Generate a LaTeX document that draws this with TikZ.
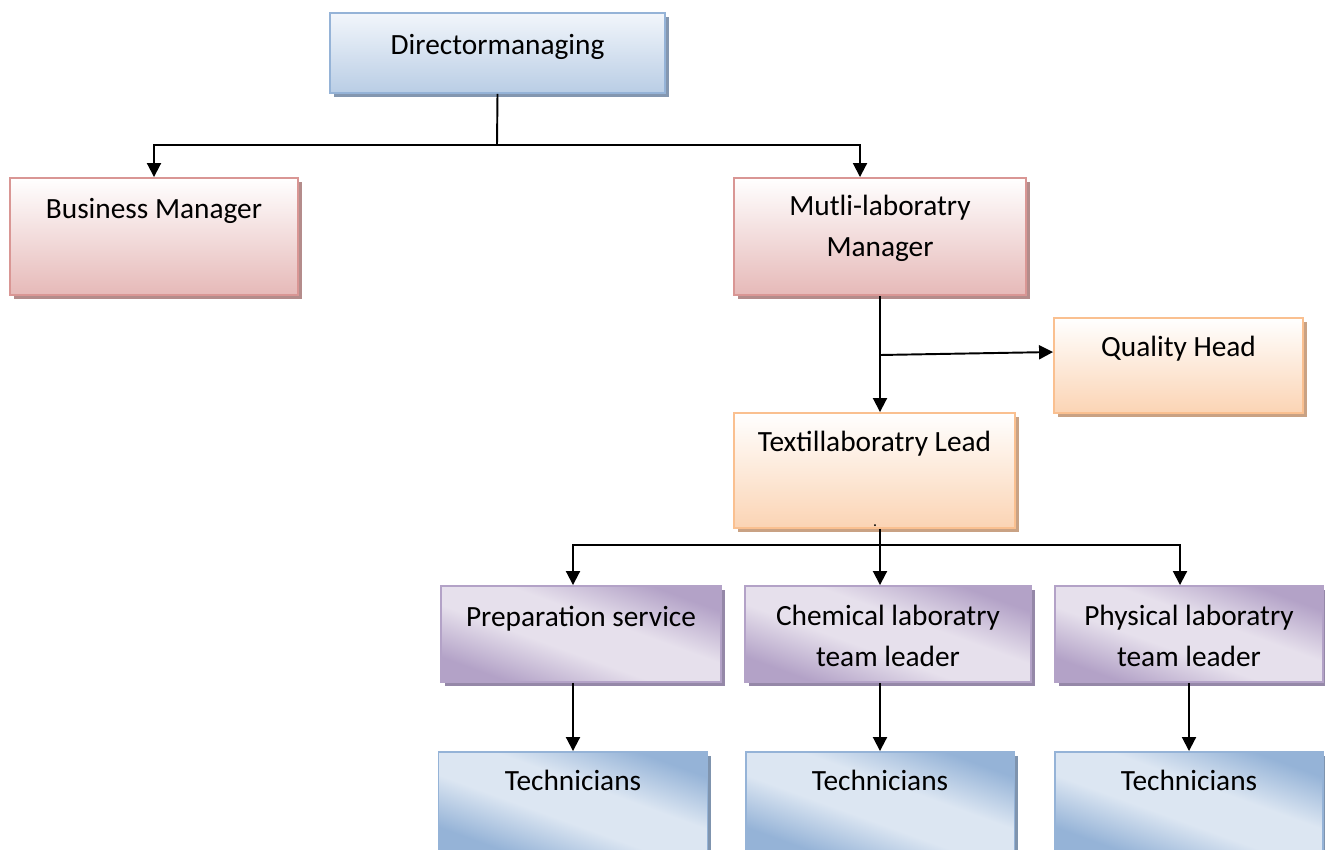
\documentclass[tikz,border=0pt]{standalone}
\usepackage{fontspec}
\setmainfont{Carlito}
\usetikzlibrary{arrows.meta,shadows}

\definecolor{dirline}{HTML}{95B3D7}
\definecolor{dirtop}{HTML}{F2F6FB}
\definecolor{dirbot}{HTML}{B9CDE5}
\definecolor{dirshade}{HTML}{8497B0}
\definecolor{mgrline}{HTML}{D99694}
\definecolor{mgrbot}{HTML}{E6B9B8}
\definecolor{mgrshade}{HTML}{B48C8B}
\definecolor{headline}{HTML}{FAC090}
\definecolor{headbot}{HTML}{FBD4B4}
\definecolor{headshade}{HTML}{C9A284}
\definecolor{teamdark}{HTML}{B3A2C7}
\definecolor{teamlight}{HTML}{E6E0EC}
\definecolor{teamshade}{HTML}{9588A8}
\definecolor{techdark}{HTML}{95B3D7}
\definecolor{techlight}{HTML}{DCE6F2}
\definecolor{techshade}{HTML}{7F94AE}

\pgfdeclareverticalshading{teamfade}{100bp}{color(0bp)=(teamdark); color(26bp)=(teamdark);
   color(43bp)=(teamlight); color(57bp)=(teamlight); color(74bp)=(teamdark); color(100bp)=(teamdark)}
\pgfdeclareverticalshading{techfade}{100bp}{color(0bp)=(techdark); color(26bp)=(techdark);
   color(43bp)=(techlight); color(57bp)=(techlight); color(74bp)=(techdark); color(100bp)=(techdark)}

\begin{document}
\begin{tikzpicture}[x=0.02cm,y=-0.02cm,
   box/.style={rectangle,line width=1.1pt,inner sep=0pt,align=center,
      font=\fontsize{16.7}{22.8}\selectfont},
   dirbox/.style={box,draw=dirline,top color=dirtop,bottom color=dirbot,
      drop shadow={shadow xshift=0.08cm,shadow yshift=-0.08cm,fill=dirshade,opacity=1}},
   mgrbox/.style={box,draw=mgrline,top color=white,bottom color=mgrbot,
      drop shadow={shadow xshift=0.08cm,shadow yshift=-0.08cm,fill=mgrshade,opacity=1}},
   headbox/.style={box,draw=headline,top color=white,bottom color=headbot,
      drop shadow={shadow xshift=0.08cm,shadow yshift=-0.08cm,fill=headshade,opacity=1}},
   teambox/.style={box,draw=teamdark,shade,shading=teamfade,shading angle=-20,
      drop shadow={shadow xshift=0.08cm,shadow yshift=-0.08cm,fill=teamshade,opacity=1}},
   techbox/.style={box,draw=techdark,shade,shading=techfade,shading angle=-20,
      drop shadow={shadow xshift=0.08cm,shadow yshift=-0.08cm,fill=techshade,opacity=1}},
   link/.style={line width=1.1pt},
   arrow/.style={link,-{Triangle[length=0.28cm,width=0.28cm]}}]
   \useasboundingbox (0,0) rectangle (1325,849);

   % boxes
   \node[dirbox,minimum width=6.7cm,text height=0.82cm,text depth=0.78cm] (dir) at (497.5,53) {Directormanaging};
   \node[mgrbox,minimum width=5.76cm,text height=0.80cm,text depth=1.54cm] (bus) at (154,236.5) {Business Manager};
   \node[mgrbox,minimum width=5.84cm,text height=1.56cm,text depth=0.78cm] (mul) at (880,236.5) {Mutli-laboratry\\Manager};
   \node[headbox,minimum width=4.98cm,text height=0.76cm,text depth=1.14cm] (qh) at (1178.5,365.5) {Quality Head};
   \node[headbox,minimum width=5.62cm,text height=0.76cm,text depth=1.54cm] (lead) at (874.5,470.5) {Textillaboratry Lead};
   \node[font=\small,anchor=base] (dot) at (875,526) {.};
   \node[teambox,minimum width=5.6cm,text height=0.80cm,text depth=1.12cm] (prep) at (581,634) {Preparation service};
   \node[teambox,minimum width=5.72cm,text height=1.60cm,text depth=0.32cm] (chem) at (888,634) {Chemical laboratry\\team leader};
   \node[teambox,minimum width=5.36cm,text height=1.60cm,text depth=0.32cm] (phys) at (1189,634) {Physical laboratry\\team leader};
   \node[techbox,minimum width=5.38cm,text height=0.76cm,text depth=1.24cm] (tech1) at (573,802) {Technicians};
   \node[techbox,minimum width=5.38cm,text height=0.76cm,text depth=1.24cm] (tech2) at (880,802) {Technicians};
   \node[techbox,minimum width=5.36cm,text height=0.76cm,text depth=1.24cm] (tech3) at (1189,802) {Technicians};

   % connectors
   \coordinate (top split) at (497,145);
   \coordinate (q split) at (880,355);
   \coordinate (low split) at (880,545);
   \draw[link] (dir.south) -- (top split);
   \draw[arrow] (top split) -| (bus);
   \draw[arrow] (top split) -| ([xshift=-0.4cm]mul.north);
   \draw[arrow] (mul.south) -- (mul.south |- lead.north);
   \draw[arrow] (q split) -- ([yshift=0.27cm]qh.west);
   \draw[link] (lead.south -| low split) -- (low split);
   \draw[arrow] (low split) -| (prep.north -| tech1);
   \draw[arrow] (low split) -- (chem.north -| tech2);
   \draw[arrow] (low split) -| ([xshift=-0.18cm]phys.north);
   \draw[arrow] (prep.south -| tech1) -- (tech1);
   \draw[arrow] (chem.south -| tech2) -- (tech2);
   \draw[arrow] (phys.south -| tech3) -- (tech3);
\end{tikzpicture}
\end{document}
